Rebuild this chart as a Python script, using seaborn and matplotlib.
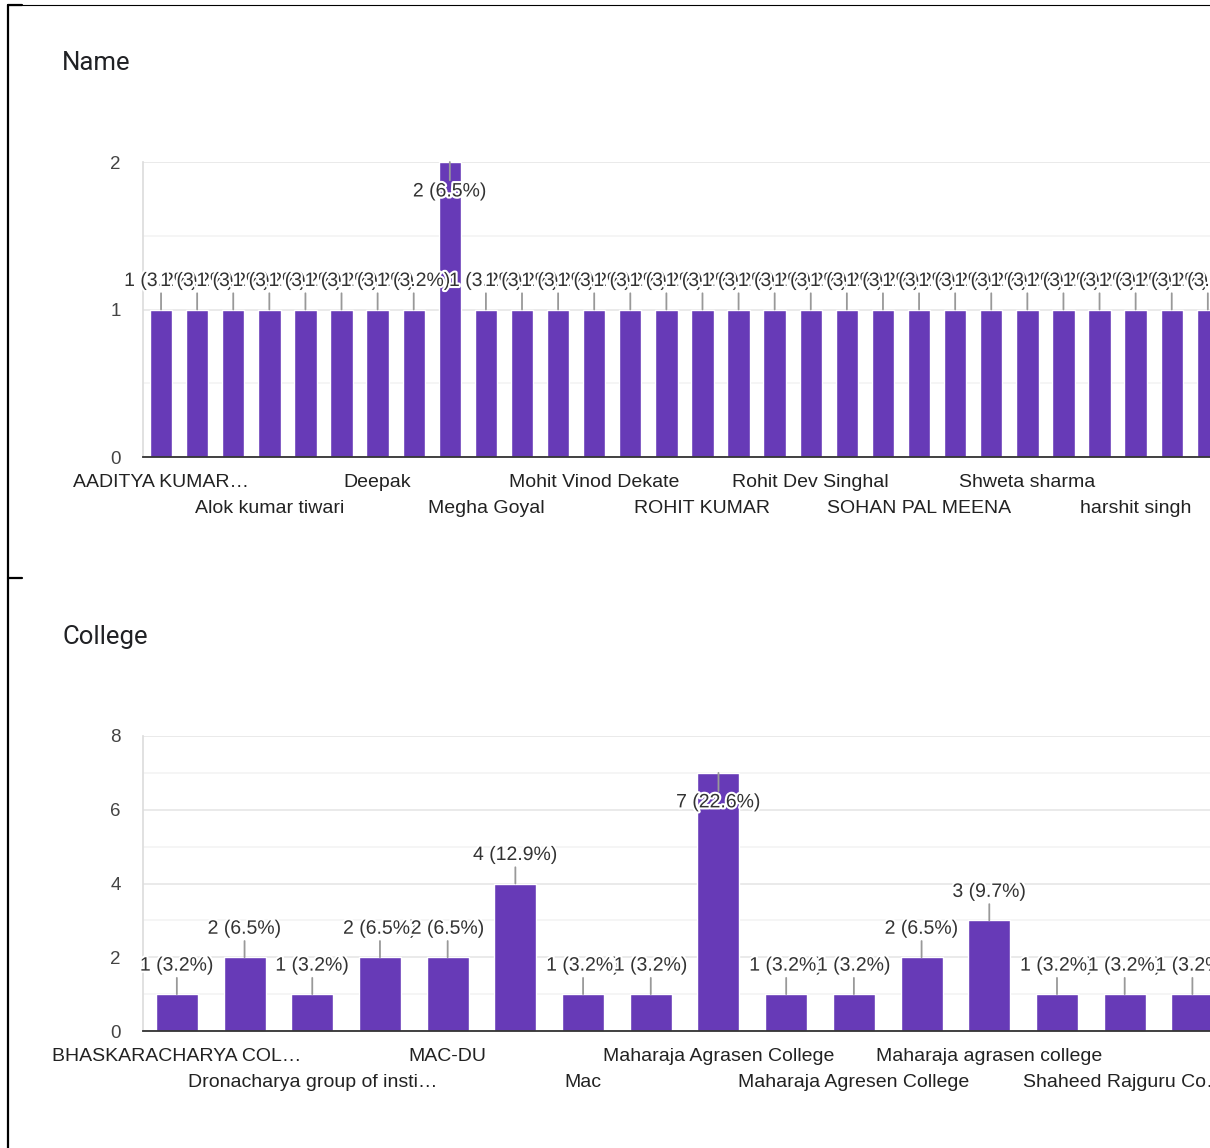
import matplotlib
matplotlib.use("Agg")
import matplotlib.pyplot as plt
import matplotlib.patheffects as pe
from matplotlib.lines import Line2D
import pandas as pd
import seaborn as sns

# Name question: 30 distinct answers, 31 responses
name_counts = [1, 1, 1, 1, 1, 1, 1, 1, 2, 1, 1, 1, 1, 1, 1, 1, 1, 1, 1, 1,
               1, 1, 1, 1, 1, 1, 1, 1, 1, 1]
name_tick_pos = [0, 3, 6, 9, 12, 15, 18, 21, 24, 27]
name_tick_labels = ["AADITYA KUMAR…", "Alok kumar tiwari", "Deepak", "Megha Goyal",
                    "Mohit Vinod Dekate", "ROHIT KUMAR", "Rohit Dev Singhal",
                    "SOHAN PAL MEENA", "Shweta sharma", "harshit singh"]

# College question
college_counts = [1, 2, 1, 2, 2, 4, 1, 1, 7, 1, 1, 2, 3, 1, 1, 1]
college_tick_pos = [0, 2, 4, 6, 8, 10, 12, 14]
college_tick_labels = ["BHASKARACHARYA COL…", "Dronacharya group of insti…", "MAC-DU", "Mac",
                       "Maharaja Agrasen College", "Maharaja Agresen College",
                       "Maharaja agrasen college", "Shaheed Rajguru Co…"]

PURPLE = "#673ab7"
W, H = 1210, 1148

sns.set_theme(style="white")
plt.rcParams["font.family"] = ["Liberation Sans", "DejaVu Sans"]

fig = plt.figure(figsize=(W / 100, H / 100), dpi=100)


def px_axes(left, top, right, bottom):
    return fig.add_axes([left / W, 1 - bottom / H, (right - left) / W, (bottom - top) / H])


def draw_chart(ax, counts, tick_pos, tick_labels, ymax, ystep, xmax):
    df = pd.DataFrame({"idx": range(len(counts)), "count": counts})
    sns.barplot(data=df, x="idx", y="count", color=PURPLE, saturation=1,
                width=0.62, ax=ax, zorder=3)
    ax.set_xlim(-0.5, xmax)
    ax.set_ylim(0, ymax)
    ax.set_xlabel("")
    ax.set_ylabel("")

    ax.set_yticks(range(0, ymax + 1, ystep))
    ax.set_yticks([v + ystep / 2 for v in range(0, ymax, ystep)], minor=True)
    ax.grid(axis="y", which="major", color="#e6e6e6", lw=1.2, zorder=0)
    ax.grid(axis="y", which="minor", color="#f3f3f3", lw=1.2, zorder=0)
    ax.tick_params(axis="y", which="both", length=0, pad=16, labelsize=13.5,
                   labelcolor="#444444")

    # staggered category labels
    labels = [lab if i % 2 == 0 else "\n" + lab for i, lab in enumerate(tick_labels)]
    ax.set_xticks(tick_pos)
    ax.set_xticklabels(labels)
    ax.tick_params(axis="x", length=0, pad=12, labelsize=14, labelcolor="#222222")
    for t in ax.get_xticklabels():
        t.set_linespacing(1.68)

    for s in ["top", "right"]:
        ax.spines[s].set_visible(False)
    ax.spines["left"].set_color("#dddddd")
    ax.spines["bottom"].set_color("#333333")
    ax.spines["bottom"].set_linewidth(1.3)
    ax.spines["bottom"].set_zorder(4)

    total = sum(counts)
    top = max(counts)
    for i, c in enumerate(counts):
        dy = -30 if c == top else 28
        ax.annotate(f"{c} ({c / total * 100:.1f}%)", xy=(i, c),
                    xytext=(0, dy), textcoords="offset pixels",
                    ha="center", va="center", fontsize=14, color="#333333",
                    zorder=5 + i,
                    path_effects=[pe.withStroke(linewidth=3, foreground="white")],
                    arrowprops=dict(arrowstyle="-", color="#999999", lw=1.3,
                                    shrinkA=0, shrinkB=0))


ax1 = px_axes(143, 162, W, 457)
draw_chart(ax1, name_counts, name_tick_pos, name_tick_labels, 2, 1, 29.06)

ax2 = px_axes(143, 736, W, 1031)
draw_chart(ax2, college_counts, college_tick_pos, college_tick_labels, 8, 2, 15.26)

fig.text(62 / W, 1 - 63 / H, "Name", fontsize=18.5, color="#202124",
         family=["Roboto", "DejaVu Sans"], va="center", ha="left")
fig.text(62 / W, 1 - 637 / H, "College", fontsize=18.5, color="#202124",
         family=["Roboto", "DejaVu Sans"], va="center", ha="left")

# screenshot frame lines
fig.add_artist(Line2D([8 / W, 8 / W], [1 - 5 / H, 0], color="black", lw=1.6))
fig.add_artist(Line2D([8 / W, 1], [1 - 5 / H, 1 - 5 / H], color="black", lw=0.8))
fig.add_artist(Line2D([8 / W, 22 / W], [1 - 5 / H, 1 - 5 / H], color="black", lw=1.6))
fig.add_artist(Line2D([8 / W, 22 / W], [1 - 578 / H, 1 - 578 / H], color="black", lw=1.6))

fig.savefig("out.png", dpi=100, facecolor="white")
